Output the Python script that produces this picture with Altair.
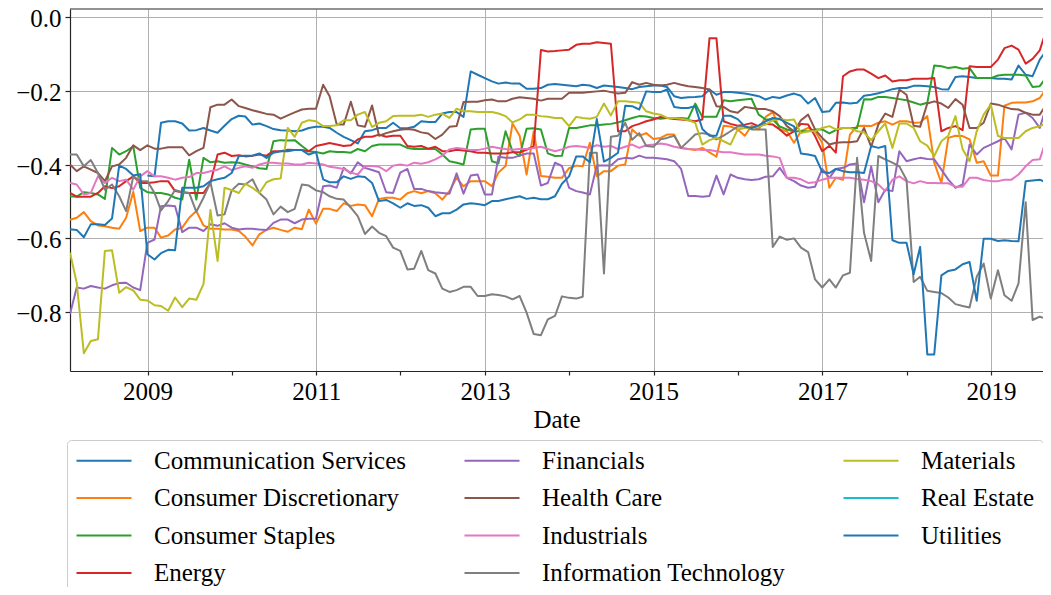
import altair as alt
import pandas as pd

N = 141
start = pd.Timestamp("2008-01-01")
dates = [(start + pd.DateOffset(months=i) + pd.offsets.MonthEnd(0)).strftime("%Y-%m-%d") for i in range(N)]

communication_services = [None] * 11 + [
    -0.430, -0.432, -0.287, -0.283, -0.283, -0.289, -0.308, -0.307, -0.301,
    -0.308, -0.314, -0.295, -0.277, -0.268, -0.270, -0.292, -0.289, -0.296, -0.304,
    -0.307, -0.308, -0.310, -0.308, -0.301, -0.298, -0.298, -0.301, -0.314, -0.325,
    -0.334, -0.343, -0.310, -0.307, -0.301, -0.301, -0.287, -0.302, -0.302, -0.298,
    -0.283, -0.285, -0.285, -0.262, -0.258, -0.258, -0.271, -0.148, -0.157, -0.166,
    -0.175, -0.181, -0.178, -0.181, -0.181, -0.195, -0.195, -0.193, -0.184, -0.182,
    -0.184, -0.186, -0.188, -0.184, -0.186, -0.193, -0.186, -0.188, -0.190, -0.193,
    -0.196, -0.190, -0.188, -0.186, -0.186, -0.190, -0.215, -0.220, -0.218, -0.217,
    -0.215, -0.197, -0.211, -0.204, -0.204, -0.206, -0.208, -0.211, -0.215, -0.224,
    -0.217, -0.220, -0.213, -0.208, -0.214, -0.235, -0.220, -0.258, -0.256, -0.233,
    -0.232, -0.235, -0.233, -0.214, -0.211, -0.207, -0.202, -0.196, -0.193, -0.193,
    -0.187, -0.187, -0.188, -0.190, -0.196, -0.197, -0.163, -0.161, -0.163, -0.166,
    -0.166, -0.166, -0.168, -0.168, -0.170, -0.132, -0.157, -0.161, -0.116, -0.089, -0.083]

consumer_discretionary = [
    -0.550, -0.544, -0.529, -0.553, -0.565, -0.567, -0.571, -0.574, -0.544, -0.474,
    -0.580, -0.571, -0.571, -0.598, -0.592, -0.576, -0.571, -0.544, -0.526, -0.565,
    -0.574, -0.574, -0.576, -0.576, -0.580, -0.595, -0.619, -0.589, -0.577, -0.571,
    -0.577, -0.582, -0.571, -0.575, -0.522, -0.560, -0.520, -0.520, -0.526, -0.505,
    -0.512, -0.508, -0.510, -0.540, -0.493, -0.490, -0.490, -0.495, -0.478, -0.472,
    -0.478, -0.472, -0.478, -0.495, -0.472, -0.436, -0.459, -0.445, -0.445, -0.445,
    -0.459, -0.422, -0.404, -0.289, -0.322, -0.427, -0.310, -0.431, -0.433, -0.436,
    -0.436, -0.410, -0.403, -0.405, -0.341, -0.432, -0.418, -0.418, -0.403, -0.400,
    -0.305, -0.322, -0.315, -0.331, -0.328, -0.319, -0.319, -0.355, -0.358, -0.361,
    -0.355, -0.367, -0.379, -0.295, -0.297, -0.305, -0.322, -0.295, -0.305, -0.271,
    -0.258, -0.305, -0.310, -0.341, -0.310, -0.301, -0.310, -0.341, -0.463, -0.436,
    -0.441, -0.319, -0.296, -0.295, -0.296, -0.287, -0.283, -0.292, -0.283, -0.283,
    -0.287, -0.286, -0.269, -0.395, -0.450, -0.328, -0.322, -0.323, -0.332, -0.395,
    -0.391, -0.430, -0.430, -0.241, -0.233, -0.232, -0.232, -0.229, -0.220, -0.193, -0.175]

consumer_staples = [
    -0.486, -0.487, -0.475, -0.477, -0.481, -0.493, -0.355, -0.373, -0.364, -0.351,
    -0.463, -0.475, -0.477, -0.477, -0.481, -0.490, -0.495, -0.387, -0.495, -0.382,
    -0.394, -0.391, -0.395, -0.394, -0.395, -0.400, -0.405, -0.410, -0.412, -0.337,
    -0.334, -0.335, -0.334, -0.350, -0.364, -0.366, -0.370, -0.364, -0.366, -0.366,
    -0.368, -0.358, -0.364, -0.350, -0.346, -0.346, -0.346, -0.346, -0.355, -0.358,
    -0.358, -0.358, -0.358, -0.373, -0.391, -0.395, -0.400, -0.305, -0.303, -0.303,
    -0.391, -0.397, -0.310, -0.364, -0.377, -0.303, -0.302, -0.305, -0.370, -0.377,
    -0.376, -0.301, -0.301, -0.298, -0.294, -0.294, -0.292, -0.290, -0.286, -0.280,
    -0.274, -0.269, -0.270, -0.274, -0.276, -0.274, -0.274, -0.274, -0.276, -0.235,
    -0.271, -0.271, -0.271, -0.226, -0.229, -0.226, -0.224, -0.222, -0.265, -0.278,
    -0.278, -0.297, -0.305, -0.310, -0.310, -0.310, -0.305, -0.305, -0.316, -0.307,
    -0.301, -0.301, -0.301, -0.223, -0.224, -0.217, -0.217, -0.220, -0.223, -0.226,
    -0.232, -0.238, -0.233, -0.132, -0.134, -0.139, -0.136, -0.141, -0.139, -0.166,
    -0.166, -0.166, -0.159, -0.157, -0.157, -0.157, -0.159, -0.190, -0.188, -0.161, -0.139]

energy = [
    -0.477, -0.487, -0.487, -0.487, -0.477, -0.459, -0.464, -0.459, -0.445, -0.432,
    -0.450, -0.450, -0.448, -0.445, -0.445, -0.472, -0.475, -0.477, -0.477, -0.477,
    -0.450, -0.373, -0.368, -0.377, -0.375, -0.378, -0.376, -0.373, -0.376, -0.364,
    -0.364, -0.360, -0.361, -0.361, -0.364, -0.350, -0.346, -0.342, -0.346, -0.350,
    -0.348, -0.332, -0.325, -0.325, -0.319, -0.325, -0.322, -0.322, -0.350, -0.352,
    -0.350, -0.357, -0.352, -0.364, -0.364, -0.360, -0.362, -0.364, -0.368, -0.368,
    -0.370, -0.370, -0.370, -0.367, -0.367, -0.360, -0.350, -0.090, -0.094, -0.093,
    -0.091, -0.089, -0.076, -0.073, -0.073, -0.069, -0.071, -0.073, -0.310, -0.310,
    -0.296, -0.290, -0.283, -0.278, -0.271, -0.274, -0.277, -0.278, -0.280, -0.283,
    -0.278, -0.058, -0.058, -0.283, -0.290, -0.295, -0.292, -0.288, -0.297, -0.290,
    -0.292, -0.305, -0.322, -0.310, -0.290, -0.292, -0.323, -0.364, -0.349, -0.368,
    -0.161, -0.148, -0.143, -0.143, -0.154, -0.166, -0.159, -0.175, -0.172, -0.172,
    -0.168, -0.168, -0.168, -0.166, -0.310, -0.301, -0.296, -0.307, -0.134, -0.136,
    -0.136, -0.136, -0.116, -0.085, -0.078, -0.089, -0.127, -0.114, -0.091, -0.031, -0.024]

financials = [
    -0.805, -0.733, -0.736, -0.729, -0.733, -0.736, -0.727, -0.721, -0.720, -0.733,
    -0.740, -0.612, -0.603, -0.513, -0.511, -0.513, -0.583, -0.571, -0.571, -0.580,
    -0.562, -0.566, -0.559, -0.571, -0.576, -0.574, -0.574, -0.576, -0.577, -0.558,
    -0.549, -0.549, -0.559, -0.549, -0.547, -0.547, -0.459, -0.457, -0.463, -0.409,
    -0.424, -0.394, -0.409, -0.415, -0.421, -0.475, -0.477, -0.422, -0.412, -0.466,
    -0.466, -0.472, -0.475, -0.477, -0.479, -0.424, -0.479, -0.430, -0.427, -0.481,
    -0.481, -0.379, -0.382, -0.382, -0.376, -0.370, -0.370, -0.457, -0.450, -0.395,
    -0.404, -0.463, -0.472, -0.476, -0.481, -0.403, -0.403, -0.403, -0.386, -0.382,
    -0.384, -0.376, -0.382, -0.382, -0.384, -0.386, -0.391, -0.412, -0.485, -0.485,
    -0.487, -0.485, -0.430, -0.481, -0.427, -0.436, -0.440, -0.442, -0.440, -0.433,
    -0.432, -0.409, -0.436, -0.445, -0.457, -0.463, -0.460, -0.412, -0.436, -0.412,
    -0.409, -0.400, -0.397, -0.502, -0.405, -0.502, -0.468, -0.472, -0.364, -0.391,
    -0.386, -0.382, -0.385, -0.386, -0.414, -0.441, -0.463, -0.454, -0.346, -0.373,
    -0.355, -0.346, -0.337, -0.328, -0.359, -0.265, -0.260, -0.274, -0.301, -0.238, -0.242]

health_care = [
    -0.400, -0.418, -0.405, -0.414, -0.423, -0.445, -0.405, -0.400, -0.382, -0.348,
    -0.361, -0.348, -0.357, -0.357, -0.353, -0.353, -0.353, -0.375, -0.364, -0.355,
    -0.245, -0.238, -0.238, -0.224, -0.242, -0.247, -0.253, -0.258, -0.263, -0.265,
    -0.276, -0.267, -0.259, -0.251, -0.249, -0.249, -0.184, -0.215, -0.292, -0.292,
    -0.230, -0.294, -0.298, -0.240, -0.322, -0.315, -0.310, -0.306, -0.304, -0.306,
    -0.313, -0.316, -0.331, -0.319, -0.298, -0.296, -0.231, -0.230, -0.230, -0.226,
    -0.224, -0.229, -0.229, -0.222, -0.218, -0.220, -0.222, -0.227, -0.222, -0.222,
    -0.222, -0.206, -0.206, -0.206, -0.204, -0.202, -0.200, -0.204, -0.208, -0.206,
    -0.177, -0.184, -0.179, -0.184, -0.186, -0.184, -0.179, -0.184, -0.188, -0.190,
    -0.193, -0.197, -0.242, -0.244, -0.256, -0.260, -0.244, -0.247, -0.250, -0.250,
    -0.256, -0.269, -0.296, -0.310, -0.280, -0.265, -0.305, -0.328, -0.346, -0.341,
    -0.340, -0.340, -0.337, -0.301, -0.352, -0.292, -0.262, -0.271, -0.197, -0.211,
    -0.295, -0.298, -0.235, -0.229, -0.235, -0.247, -0.223, -0.238, -0.301, -0.301,
    -0.287, -0.235, -0.238, -0.244, -0.250, -0.251, -0.260, -0.265, -0.265, -0.235, -0.238]

industrials = [
    -0.450, -0.454, -0.481, -0.477, -0.432, -0.450, -0.436, -0.445, -0.441, -0.468,
    -0.432, -0.418, -0.432, -0.432, -0.436, -0.441, -0.436, -0.434, -0.423, -0.423,
    -0.418, -0.414, -0.405, -0.415, -0.409, -0.405, -0.409, -0.400, -0.395, -0.395,
    -0.397, -0.397, -0.400, -0.400, -0.395, -0.397, -0.400, -0.406, -0.409, -0.412,
    -0.422, -0.427, -0.404, -0.404, -0.406, -0.418, -0.403, -0.400, -0.403, -0.395,
    -0.398, -0.394, -0.386, -0.376, -0.359, -0.355, -0.357, -0.361, -0.361, -0.357,
    -0.352, -0.355, -0.358, -0.360, -0.358, -0.358, -0.355, -0.352, -0.358, -0.364,
    -0.359, -0.352, -0.350, -0.352, -0.355, -0.348, -0.352, -0.350, -0.358, -0.352,
    -0.346, -0.355, -0.348, -0.346, -0.343, -0.346, -0.352, -0.355, -0.358, -0.359,
    -0.361, -0.361, -0.364, -0.367, -0.367, -0.370, -0.373, -0.373, -0.373, -0.376,
    -0.378, -0.382, -0.436, -0.436, -0.440, -0.450, -0.448, -0.441, -0.436, -0.436,
    -0.436, -0.436, -0.439, -0.441, -0.445, -0.454, -0.472, -0.441, -0.432, -0.445,
    -0.451, -0.445, -0.450, -0.450, -0.451, -0.451, -0.460, -0.460, -0.436, -0.436,
    -0.442, -0.445, -0.445, -0.441, -0.441, -0.427, -0.405, -0.388, -0.386, -0.328, -0.323]

information_technology = [
    -0.373, -0.373, -0.405, -0.388, -0.423, -0.468, -0.454, -0.486, -0.526, -0.432,
    -0.445, -0.445, -0.477, -0.524, -0.499, -0.469, -0.475, -0.477, -0.528, -0.490,
    -0.448, -0.538, -0.535, -0.470, -0.452, -0.454, -0.440, -0.477, -0.495, -0.535,
    -0.514, -0.529, -0.520, -0.454, -0.457, -0.470, -0.475, -0.486, -0.493, -0.495,
    -0.517, -0.540, -0.588, -0.568, -0.585, -0.594, -0.625, -0.634, -0.684, -0.682,
    -0.634, -0.686, -0.695, -0.736, -0.745, -0.740, -0.731, -0.731, -0.756, -0.756,
    -0.751, -0.753, -0.757, -0.765, -0.756, -0.801, -0.859, -0.862, -0.819, -0.810,
    -0.757, -0.761, -0.763, -0.758, -0.368, -0.368, -0.695, -0.325, -0.322, -0.287,
    -0.333, -0.315, -0.350, -0.352, -0.332, -0.328, -0.322, -0.355, -0.337, -0.319,
    -0.315, -0.319, -0.332, -0.322, -0.310, -0.297, -0.297, -0.305, -0.305, -0.305,
    -0.623, -0.595, -0.604, -0.600, -0.625, -0.637, -0.711, -0.733, -0.711, -0.733,
    -0.700, -0.693, -0.382, -0.585, -0.661, -0.377, -0.386, -0.395, -0.405, -0.441,
    -0.718, -0.704, -0.742, -0.745, -0.748, -0.760, -0.778, -0.783, -0.787, -0.704,
    -0.668, -0.763, -0.686, -0.754, -0.769, -0.722, -0.502, -0.821, -0.812, -0.818, -0.620]

materials = [
    -0.639, -0.720, -0.911, -0.878, -0.873, -0.634, -0.632, -0.747, -0.732, -0.741,
    -0.766, -0.768, -0.781, -0.783, -0.796, -0.760, -0.786, -0.763, -0.766, -0.724,
    -0.523, -0.661, -0.463, -0.469, -0.477, -0.452, -0.463, -0.477, -0.448, -0.440,
    -0.438, -0.301, -0.325, -0.287, -0.280, -0.283, -0.296, -0.296, -0.294, -0.280,
    -0.280, -0.265, -0.258, -0.298, -0.287, -0.283, -0.269, -0.268, -0.268, -0.268,
    -0.265, -0.271, -0.265, -0.262, -0.274, -0.249, -0.256, -0.256, -0.258, -0.258,
    -0.258, -0.262, -0.269, -0.286, -0.278, -0.265, -0.265, -0.269, -0.271, -0.274,
    -0.274, -0.296, -0.271, -0.274, -0.276, -0.271, -0.235, -0.267, -0.229, -0.229,
    -0.231, -0.233, -0.256, -0.262, -0.265, -0.274, -0.274, -0.276, -0.280, -0.287,
    -0.346, -0.334, -0.328, -0.337, -0.346, -0.305, -0.301, -0.301, -0.297, -0.292,
    -0.280, -0.277, -0.280, -0.278, -0.315, -0.310, -0.310, -0.301, -0.296, -0.305,
    -0.301, -0.301, -0.310, -0.313, -0.334, -0.310, -0.289, -0.355, -0.289, -0.289,
    -0.301, -0.337, -0.349, -0.377, -0.337, -0.322, -0.269, -0.359, -0.391, -0.310,
    -0.265, -0.238, -0.323, -0.328, -0.328, -0.328, -0.310, -0.301, -0.296, -0.287, -0.283]

real_estate = [None] * N

utilities = [
    -0.575, -0.577, -0.597, -0.562, -0.562, -0.564, -0.546, -0.403, -0.412, -0.430,
    -0.426, -0.643, -0.657, -0.640, -0.631, -0.632, -0.463, -0.463, -0.463, -0.459,
    -0.445, -0.440, -0.436, -0.423, -0.377, -0.376, -0.376, -0.370, -0.382, -0.368,
    -0.364, -0.364, -0.361, -0.361, -0.373, -0.366, -0.440, -0.448, -0.448, -0.432,
    -0.439, -0.432, -0.434, -0.450, -0.499, -0.496, -0.505, -0.517, -0.505, -0.512,
    -0.510, -0.517, -0.540, -0.532, -0.532, -0.522, -0.508, -0.505, -0.507, -0.510,
    -0.499, -0.499, -0.494, -0.490, -0.486, -0.493, -0.490, -0.494, -0.494, -0.486,
    -0.452, -0.432, -0.378, -0.378, -0.394, -0.277, -0.392, -0.382, -0.368, -0.241,
    -0.242, -0.251, -0.202, -0.204, -0.204, -0.197, -0.244, -0.247, -0.247, -0.242,
    -0.304, -0.322, -0.322, -0.268, -0.268, -0.277, -0.297, -0.301, -0.294, -0.283,
    -0.274, -0.277, -0.287, -0.297, -0.370, -0.373, -0.377, -0.420, -0.423, -0.412,
    -0.418, -0.421, -0.421, -0.423, -0.350, -0.355, -0.350, -0.605, -0.612, -0.612,
    -0.697, -0.623, -0.914, -0.914, -0.700, -0.688, -0.684, -0.670, -0.664, -0.769,
    -0.601, -0.601, -0.607, -0.605, -0.607, -0.608, -0.445, -0.443, -0.441, -0.450, -0.451]

series = {
    "Communication Services": communication_services,
    "Consumer Discretionary": consumer_discretionary,
    "Consumer Staples": consumer_staples,
    "Energy": energy,
    "Financials": financials,
    "Health Care": health_care,
    "Industrials": industrials,
    "Information Technology": information_technology,
    "Materials": materials,
    "Real Estate": real_estate,
    "Utilities": utilities,
}

colors = {
    "Communication Services": "#1f77b4",
    "Consumer Discretionary": "#ff7f0e",
    "Consumer Staples": "#2ca02c",
    "Energy": "#d62728",
    "Financials": "#9467bd",
    "Health Care": "#8c564b",
    "Industrials": "#e377c2",
    "Information Technology": "#7f7f7f",
    "Materials": "#bcbd22",
    "Real Estate": "#17becf",
    "Utilities": "#1f77b4",
}

legend_order = list(series.keys())  # legend columns are filled top to bottom

rows = []
for name, vals in series.items():
    vals = (list(vals) + [None] * N)[:N]
    for d, v in zip(dates, vals):
        if v is not None:
            rows.append({"date": d, "sector": name, "value": v})
df = pd.DataFrame(rows)

FONT = "Liberation Serif"
INK = "#262626"
W, H = 973, 362

x_axis = alt.Axis(
    values=[alt.DateTime(year=y, month=1, date=1, utc=True) for y in range(2009, 2020)],
    labelExpr="utcyear(datum.value) % 2 == 1 ? utcFormat(datum.value, '%Y') : ''",
    gridOpacity={"condition": {"test": "utcyear(datum.value) % 2 == 1", "value": 1}, "value": 0},
    labelOverlap=False, labelFlush=False,
    title="Date", titleFont=FONT, titleFontSize=25, titleFontWeight="normal",
    titleColor="black", titlePadding=3,
    labelFont=FONT, labelFontSize=25, labelColor="black", labelPadding=4,
    tickSize=4, tickColor=INK, tickWidth=1.2,
    domainColor=INK, domainWidth=1.2,
    grid=True, gridColor="#b0b0b0", gridWidth=1,
)
y_axis = alt.Axis(
    values=[0.0, -0.2, -0.4, -0.6, -0.8], format=".1f", title=None,
    labelFont=FONT, labelFontSize=25, labelColor="black", labelPadding=4,
    labelOffset=1.5,
    tickSize=5, tickColor=INK, tickWidth=1.2,
    domainColor=INK, domainWidth=1.2,
    grid=True, gridColor="#b0b0b0", gridWidth=1,
)

lines = alt.Chart(df).mark_line(strokeWidth=2, clip=True, strokeJoin="round").encode(
    x=alt.X("date:T", axis=x_axis,
            scale=alt.Scale(type="utc", nice=False,
                            domain=[alt.DateTime(year=2008, month=1, date=31, utc=True),
                                    alt.DateTime(year=2019, month=8, date=14, utc=True)])),
    y=alt.Y("value:Q", axis=y_axis,
            scale=alt.Scale(domain=[-0.959, 0.021], nice=False, zero=False)),
    color=alt.Color(
        "sector:N",
        scale=alt.Scale(domain=legend_order, range=[colors[s] for s in legend_order]),
        legend=alt.Legend(
            orient="none", legendX=-3, legendY=431, columns=3, direction="vertical",
            title=None,
            symbolType="M-1,0H4", symbolSize=484, symbolStrokeWidth=2,
            labelFont=FONT, labelFontSize=25, labelColor="black", labelLimit=600,
            labelOffset=54, columnPadding=53, rowPadding=11.5, padding=8,
            gridAlign="each", strokeColor="#cccccc", fillColor="white", cornerRadius=4,
        ),
    ),
)

top_spine = alt.Chart(pd.DataFrame({"edge": ["top"]})).mark_rule(
    color=INK, strokeWidth=1.2
).encode(y=alt.value(0), x=alt.value(0), x2=alt.value(W))

chart = alt.layer(lines, top_spine).properties(
    width=W, height=H,
    autosize=alt.AutoSizeParams(type="none"),
    padding={"left": 62, "top": 1, "right": 0, "bottom": 216},
    background="white",
).configure_view(stroke=None)

chart.save("out.html", embed_options={"renderer": "svg", "actions": False})
